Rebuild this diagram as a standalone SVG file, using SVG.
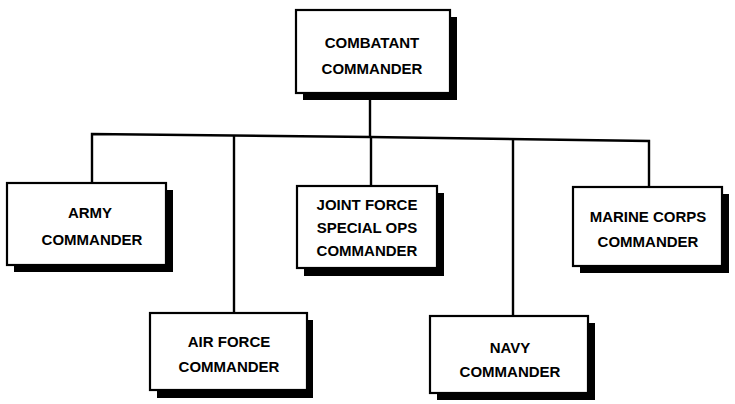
<svg xmlns="http://www.w3.org/2000/svg" width="735" height="404" viewBox="0 0 735 404">
<style>
.box{fill:#fff;stroke:#000;stroke-width:2.2}
.sh{fill:#000}
.t{font-family:"Liberation Sans",Arial,sans-serif;font-weight:bold;font-size:15px;fill:#000;text-anchor:middle}
.ln{fill:none;stroke:#000;stroke-width:2.4}
</style>
<rect width="735" height="404" fill="#fff"/>
<g id="connectors">
<line class="ln" x1="370" y1="93" x2="370" y2="137"/>
<polyline class="ln" points="92,183 92,134 370,137 649,141 649,187"/>
<line class="ln" x1="234" y1="135.5" x2="234" y2="313"/>
<line class="ln" x1="371" y1="137" x2="371" y2="186"/>
<line class="ln" x1="513" y1="139" x2="513" y2="316"/>
</g>
<g id="combatant">
<rect class="sh" x="303" y="17" width="154" height="83"/>
<rect class="box" x="296" y="10" width="154" height="83"/>
<text class="t" x="372" y="48">COMBATANT</text>
<text class="t" x="372" y="74">COMMANDER</text>
</g>
<g id="army">
<rect class="sh" x="14" y="190" width="159" height="82"/>
<rect class="box" x="7" y="183" width="159" height="82"/>
<text class="t" x="90" y="218">ARMY</text>
<text class="t" x="92" y="245">COMMANDER</text>
</g>
<g id="airforce">
<rect class="sh" x="157" y="320" width="156" height="78"/>
<rect class="box" x="150" y="313" width="157" height="77"/>
<text class="t" x="229" y="347">AIR FORCE</text>
<text class="t" x="229" y="372">COMMANDER</text>
</g>
<g id="jointforce">
<rect class="sh" x="304" y="193" width="140" height="83"/>
<rect class="box" x="297" y="186" width="140" height="82"/>
<text class="t" x="367" y="210">JOINT FORCE</text>
<text class="t" x="367" y="233">SPECIAL OPS</text>
<text class="t" x="367" y="256">COMMANDER</text>
</g>
<g id="navy">
<rect class="sh" x="437" y="323" width="158" height="77"/>
<rect class="box" x="430" y="316" width="158" height="77"/>
<text class="t" x="510" y="353">NAVY</text>
<text class="t" x="510" y="377">COMMANDER</text>
</g>
<g id="marinecorps">
<rect class="sh" x="580" y="194" width="149" height="79"/>
<rect class="box" x="573" y="187" width="149" height="79"/>
<text class="t" x="648" y="222">MARINE CORPS</text>
<text class="t" x="648" y="247">COMMANDER</text>
</g>
</svg>
